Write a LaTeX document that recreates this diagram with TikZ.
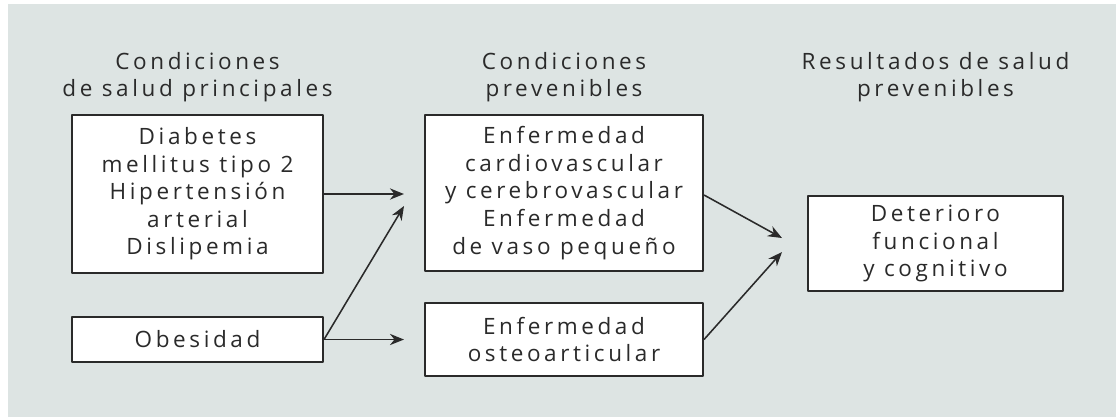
\documentclass[tikz,border=0pt]{standalone}
\usepackage{fontspec}
\setmainfont{Open Sans}[LetterSpace=16,Ligatures={NoCommon}]
\usepackage{tikz}
\usetikzlibrary{arrows.meta,calc}
\definecolor{bgpanel}{HTML}{DDE4E3}
\definecolor{inkgray}{HTML}{2A2A2A}
\tikzset{
  boxnode/.style={draw=inkgray,line width=1.4pt,fill=white,align=center,
    inner sep=0pt,text=inkgray,font=\fontsize{16}{19.6}\selectfont},
  headnode/.style={align=center,text=inkgray,font=\fontsize{16}{19.6}\selectfont},
  arr/.style={-{Stealth[length=10pt,width=8pt]},line width=1.1pt,draw=inkgray}
}
\begin{document}
\begin{tikzpicture}[x=0.025cm,y=-0.025cm,line join=round]
  \useasboundingbox (0,0) rectangle (1116,417);
  \fill[white] (0,0) rectangle (1116,417);
  \fill[bgpanel] (8,4) rectangle (1116,417);
  % column headers
  \node[headnode] (hprin) at (197.5,77) {Condiciones\\de salud principales};
  \node[headnode] (hprev) at (564,77) {Condiciones\\prevenibles};
  \node[headnode] (hres) at (935.5,77) {Resultados de salud\\prevenibles};
  % boxes
  \node[boxnode,minimum width=6.275cm,minimum height=3.95cm] (diab) at (197.5,194)
    {Diabetes\\mellitus tipo 2\\Hipertensión\\arterial\\Dislipemia};
  \node[boxnode,minimum width=6.275cm,minimum height=1.125cm] (obes) at (197.5,339.5)
    {Obesidad};
  \node[boxnode,minimum width=6.95cm,minimum height=3.9cm] (cardio) at (564,193)
    {Enfermedad\\cardiovascular\\y cerebrovascular\\Enfermedad\\de vaso pequeño};
  \node[boxnode,minimum width=6.95cm,minimum height=1.825cm] (osteo) at (564,339.5)
    {Enfermedad\\osteoarticular};
  \node[boxnode,minimum width=6.375cm,minimum height=2.375cm] (deter) at (935.5,243.5)
    {Deterioro\\funcional\\y cognitivo};
  % free arrow ends
  \coordinate (cin) at (404,206);
  \coordinate (ein1) at (782,238);
  \coordinate (ein2) at (782,252);
  % connectors
  \draw[arr,shorten >=0.5cm] (diab.east) -- (diab.east -| cardio.west);
  \draw[arr] (obes.east) -- (cin);
  \draw[arr,shorten >=0.5cm] (obes.east) -- (obes.east -| osteo.west);
  \draw[arr] ($(cardio.east)+(0,2)$) -- (ein1);
  \draw[arr] (osteo.east) -- (ein2);
\end{tikzpicture}
\end{document}
